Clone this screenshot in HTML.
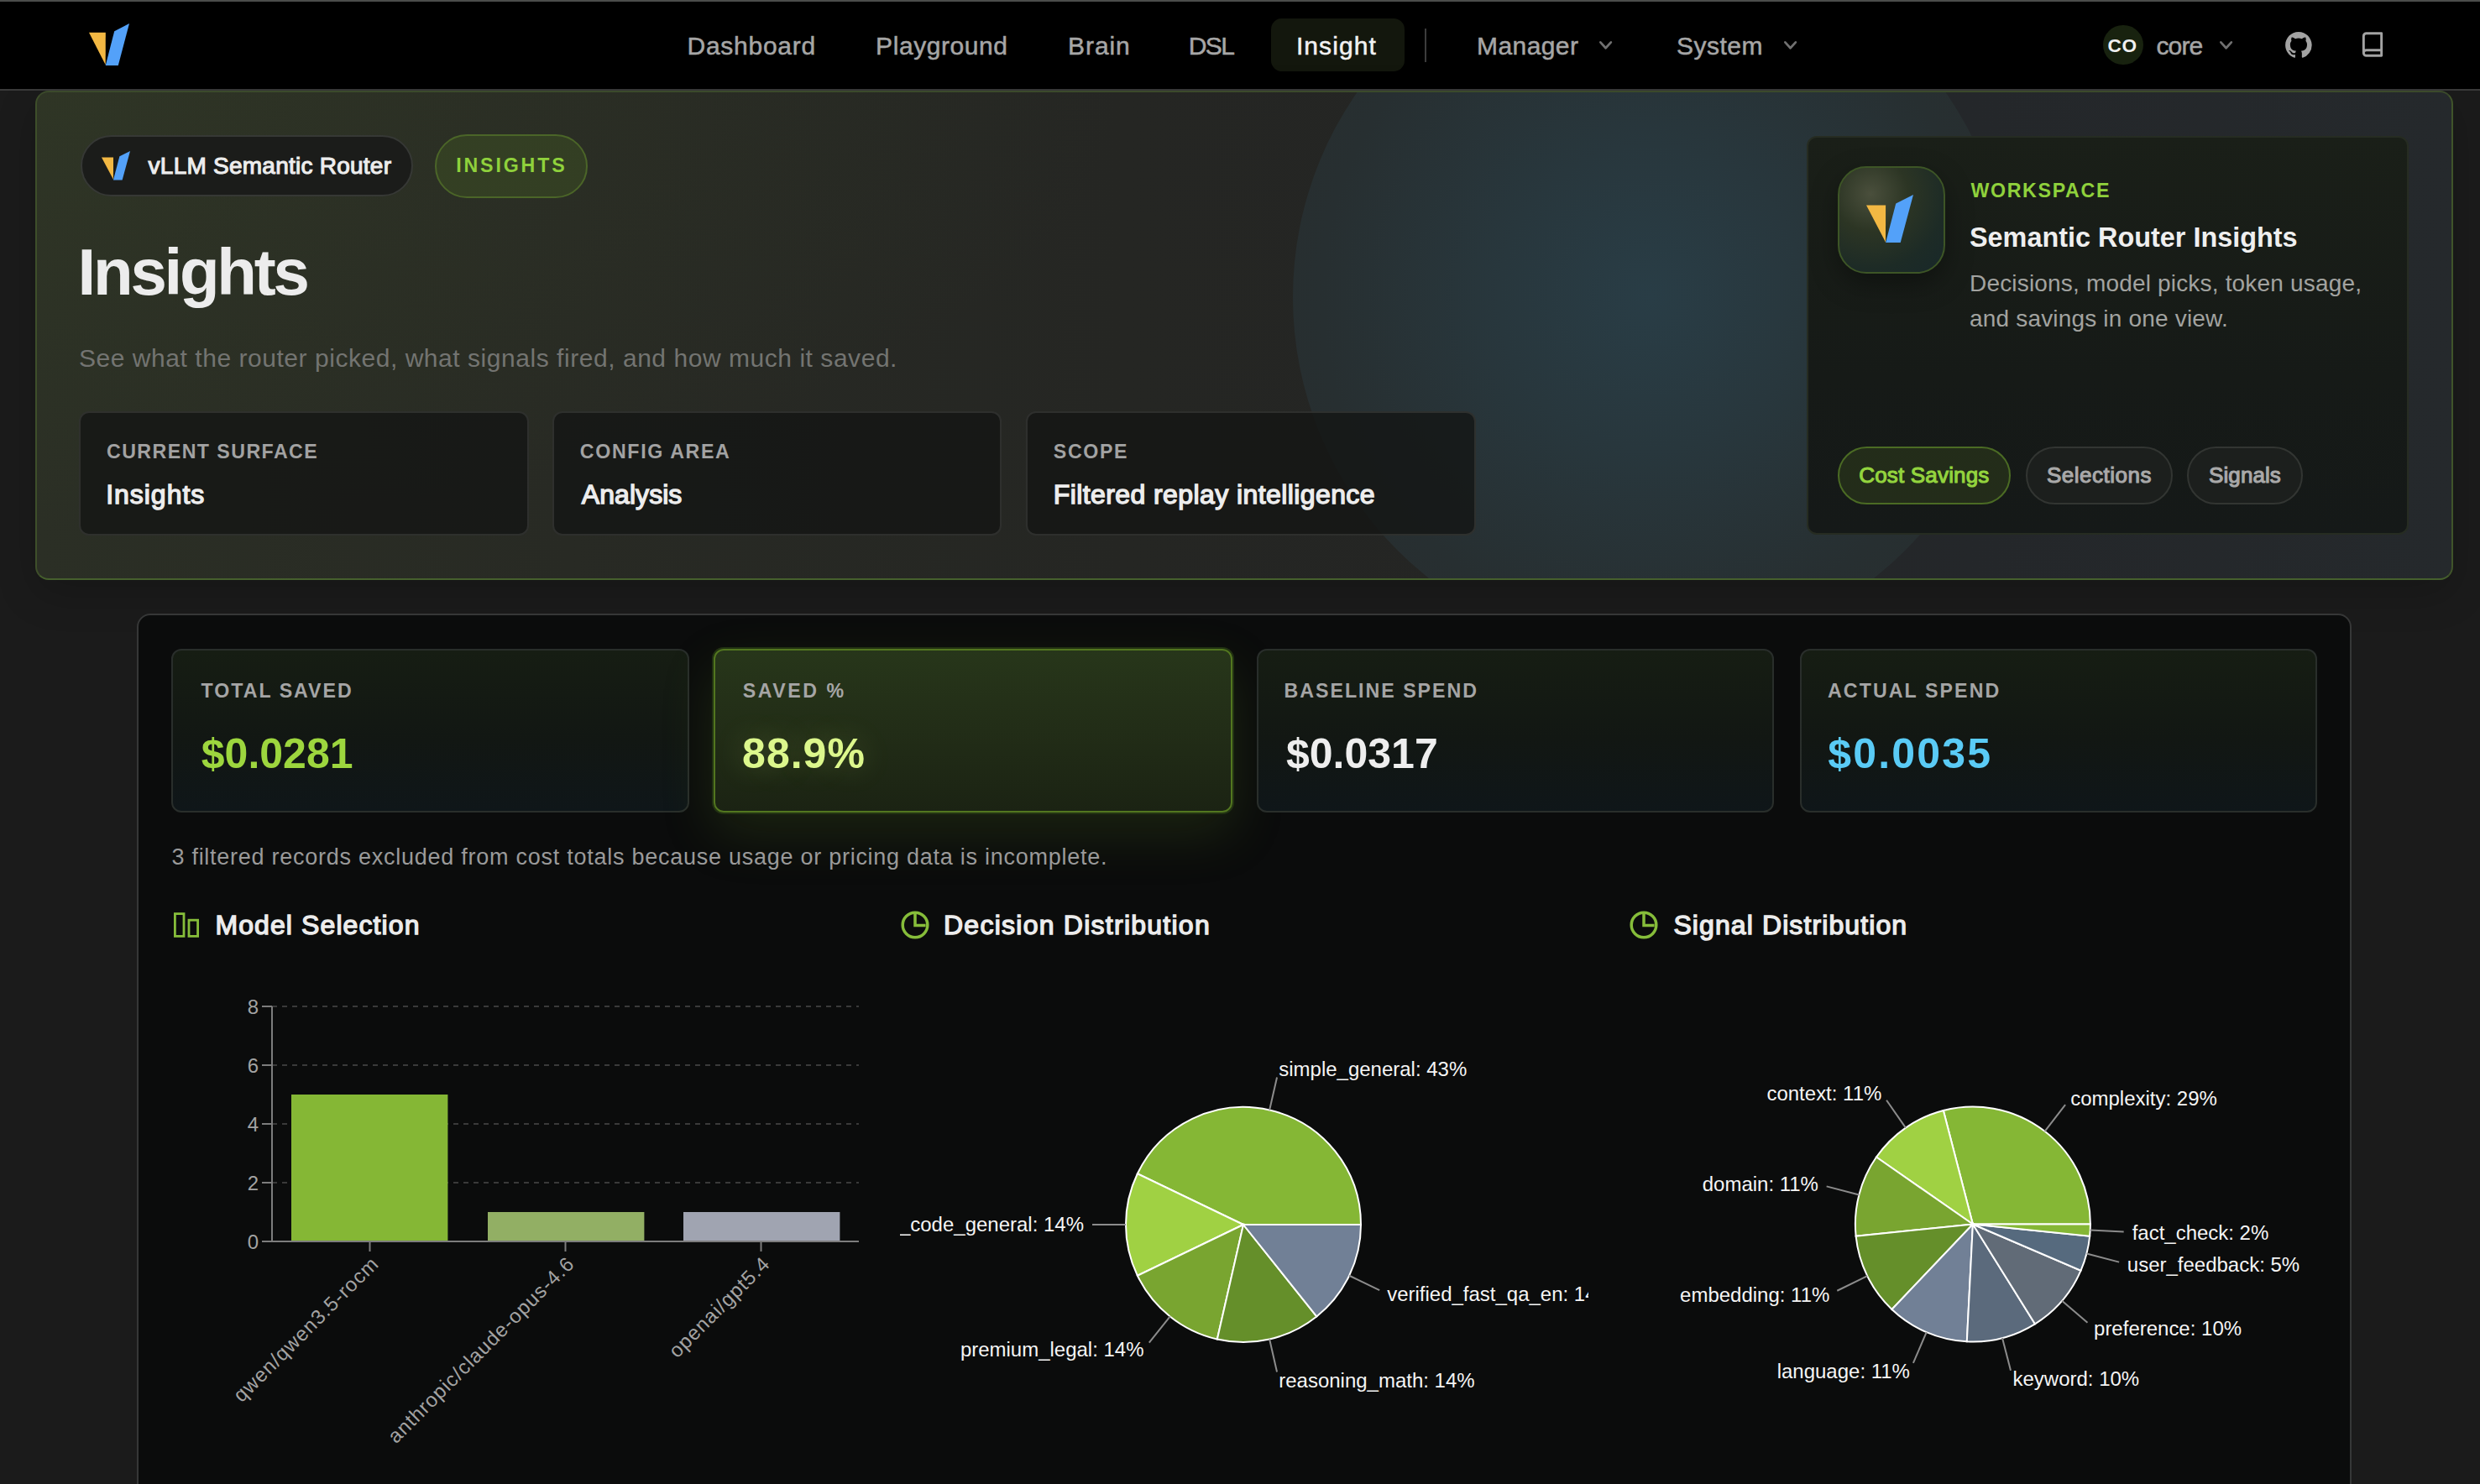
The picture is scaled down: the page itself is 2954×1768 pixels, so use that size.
<!DOCTYPE html>
<html><head><meta charset="utf-8"><title>Insights</title>
<style>
*{margin:0;padding:0;box-sizing:content-box}
html,body{width:1477px;height:884px;overflow:hidden;background:#1b1b1b}
@media (min-width: 2000px) { html { zoom: 2; } }
body{position:relative;font-family:'Liberation Sans', Arial, sans-serif;-webkit-font-smoothing:antialiased}
.t{position:absolute;white-space:nowrap;line-height:1}
.b{position:absolute;display:block}
.hero{border:1px solid #3f5129;border-color:#3b4a2b #40542a #46602d #3e4f2a;border-radius:8px;box-shadow:0 8px 24px rgba(0,0,0,0.18);overflow:hidden;box-sizing:border-box;
background:radial-gradient(ellipse 45% 90% at 0% 0%, rgba(62,78,38,0.20), rgba(62,78,38,0) 100%),linear-gradient(90deg,#2b2f25 0%,#282a24 22%,#252623 45%,#242524 62%,#24272a 80%,#25292c 100%);}
.circ{left:748px;top:-91.4px;width:426.8px;height:426.8px;border-radius:50%;
background:radial-gradient(circle at 50% 50%,#293d46 0%,#28373d 30%,#272f31 65%,#282d2d 100%);}
</style></head>
<body>
<div class="b" style="left:0.00px;top:0.00px;width:1477.00px;height:1.00px;background:#4b4d4b"></div>
<div class="b" style="left:0.00px;top:1.00px;width:1477.00px;height:52.00px;background:#000"></div>
<div class="b" style="left:0.00px;top:53.00px;width:1477.00px;height:1.00px;background:#3a3a3a"></div>
<svg class="b" style="left:53.20px;top:14.00px" width="24.00" height="25.00" viewBox="0 0 24 25" preserveAspectRatio="none"><polygon points="0,5.4 9.9,5.4 9.85,24.6" fill="#f3b843"/><polygon points="9.85,25 17.4,25 24,0 15.1,4.6" fill="#53a1f9"/></svg>
<div class="t" style="left:409.25px;top:19.85px;font-size:15px;color:#a6a6a6;letter-spacing:0.37px;-webkit-text-stroke:0.25px currentColor;">Dashboard</div>
<div class="t" style="left:521.55px;top:19.85px;font-size:15px;color:#a6a6a6;letter-spacing:0.28px;-webkit-text-stroke:0.25px currentColor;">Playground</div>
<div class="t" style="left:636.05px;top:19.85px;font-size:15px;color:#a6a6a6;letter-spacing:0.45px;-webkit-text-stroke:0.25px currentColor;">Brain</div>
<div class="t" style="left:707.85px;top:19.85px;font-size:15px;color:#a6a6a6;letter-spacing:-0.75px;-webkit-text-stroke:0.25px currentColor;">DSL</div>
<div class="b" style="left:756.80px;top:11.20px;width:79.60px;height:31.50px;background:#13170d;border-radius:6.5px"></div>
<div class="t" style="left:771.95px;top:19.85px;font-size:15px;color:#f2f2f2;letter-spacing:0.55px;-webkit-text-stroke:0.25px currentColor;">Insight</div>
<div class="b" style="left:848.60px;top:17.00px;width:1.00px;height:20.00px;background:#3c3c3c"></div>
<div class="t" style="left:879.55px;top:19.85px;font-size:15px;color:#a6a6a6;letter-spacing:0.2px;-webkit-text-stroke:0.25px currentColor;">Manager</div>
<svg class="b" style="left:952.70px;top:24.60px;overflow:visible" width="7.6" height="4.8" viewBox="0 0 7.6 4.8"><polyline points="0.675,0.675 3.8,4.125 6.925,0.675" fill="none" stroke="#707070" stroke-width="1.35" stroke-linecap="round" stroke-linejoin="round"/></svg>
<div class="t" style="left:998.45px;top:19.85px;font-size:15px;color:#a6a6a6;letter-spacing:0.25px;-webkit-text-stroke:0.25px currentColor;">System</div>
<svg class="b" style="left:1062.30px;top:24.60px;overflow:visible" width="7.6" height="4.8" viewBox="0 0 7.6 4.8"><polyline points="0.675,0.675 3.8,4.125 6.925,0.675" fill="none" stroke="#707070" stroke-width="1.35" stroke-linecap="round" stroke-linejoin="round"/></svg>
<div class="b" style="left:1252.70px;top:15.10px;width:23.60px;height:23.60px;background:#18220f;border-radius:50%"></div>
<div class="t" style="left:1255.30px;top:22.03px;font-size:11.3px;color:#f0f0f0;font-weight:700;letter-spacing:0.3px;">CO</div>
<div class="t" style="left:1284.25px;top:19.85px;font-size:15px;color:#a6a6a6;letter-spacing:-0.45px;-webkit-text-stroke:0.25px currentColor;">core</div>
<svg class="b" style="left:1321.90px;top:24.70px;overflow:visible" width="7.6" height="4.8" viewBox="0 0 7.6 4.8"><polyline points="0.675,0.675 3.8,4.125 6.925,0.675" fill="none" stroke="#707070" stroke-width="1.35" stroke-linecap="round" stroke-linejoin="round"/></svg>
<svg class="b" style="left:1361px;top:18.9px" width="15.9" height="15.8" viewBox="0 0 16 16"><path fill="#a3a3a3" d="M8 0C3.58 0 0 3.58 0 8c0 3.54 2.29 6.53 5.47 7.59.4.07.55-.17.55-.38 0-.19-.01-.82-.01-1.49-2.01.37-2.53-.49-2.69-.94-.09-.23-.48-.94-.82-1.13-.28-.15-.68-.52-.01-.53.63-.01 1.08.58 1.23.82.72 1.21 1.87.87 2.33.66.07-.52.28-.87.51-1.07-1.78-.2-3.64-.89-3.64-3.95 0-.87.31-1.59.82-2.15-.08-.2-.36-1.02.08-2.12 0 0 .67-.21 2.2.82.64-.18 1.32-.27 2-.27.68 0 1.36.09 2 .27 1.53-1.04 2.2-.82 2.2-.82.44 1.1.16 1.92.08 2.12.51.56.82 1.27.82 2.15 0 3.07-1.87 3.75-3.65 3.95.29.25.54.73.54 1.48 0 1.07-.01 1.93-.01 2.2 0 .21.15.46.55.38A8.013 8.013 0 0016 8c0-4.42-3.58-8-8-8z"/></svg>
<svg class="b" style="left:1405px;top:18.7px" width="16" height="16" viewBox="0 0 24 24" fill="none" stroke="#a3a3a3" stroke-width="2.2" stroke-linecap="round" stroke-linejoin="round"><path d="M4 19.5v-15A2.5 2.5 0 0 1 6.5 2H20v20H6.5a2.5 2.5 0 0 1 0-5H20"/></svg>
<div class="b hero" style="left:21px;top:54px;width:1440px;height:291.5px;"><div class="b circ"></div></div>
<div class="b" style="left:47.80px;top:80.50px;width:198.40px;height:36.70px;background:#1b1c1a;border:1px solid #363835;box-sizing:border-box;border-radius:20px"></div>
<svg class="b" style="left:60.40px;top:90.10px" width="17.00" height="17.20" viewBox="0 0 24 25" preserveAspectRatio="none"><polygon points="0,5.4 9.9,5.4 9.85,24.6" fill="#f3b843"/><polygon points="9.85,25 17.4,25 24,0 15.1,4.6" fill="#53a1f9"/></svg>
<div class="t" style="left:88.30px;top:91.80px;font-size:14px;color:#ededed;letter-spacing:0.121052631578951px;-webkit-text-stroke:0.55px currentColor;">vLLM Semantic Router</div>
<div class="b" style="left:259.00px;top:80.20px;width:91.00px;height:37.60px;background:rgba(70,95,35,0.35);border:1px solid #4b6528;box-sizing:border-box;border-radius:20px"></div>
<div class="t" style="left:271.60px;top:92.93px;font-size:11.6px;color:#8fd13c;font-weight:700;letter-spacing:1.4285714285714477px;">INSIGHTS</div>
<div class="t" style="left:46.30px;top:142.74px;font-size:39px;color:#ececec;font-weight:700;letter-spacing:-1.63px;">Insights</div>
<div class="t" style="left:47.00px;top:205.75px;font-size:15px;color:#737471;letter-spacing:0.27px;">See what the router picked, what signals fired, and how much it saved.</div>
<div class="b" style="left:47.10px;top:244.80px;width:267.80px;height:74.40px;background:rgba(19,20,19,0.78);border:1px solid rgba(52,54,51,0.8);box-sizing:border-box;border-radius:6px"></div>
<div class="t" style="left:63.50px;top:263.53px;font-size:11.6px;color:#a2a2a2;font-weight:700;letter-spacing:0.7200000000000023px;">CURRENT SURFACE</div>
<div class="t" style="left:63.10px;top:286.56px;font-size:16px;color:#ededed;letter-spacing:0.48571428571429043px;-webkit-text-stroke:0.7px currentColor;">Insights</div>
<div class="b" style="left:328.90px;top:244.80px;width:267.80px;height:74.40px;background:rgba(19,20,19,0.78);border:1px solid rgba(52,54,51,0.8);box-sizing:border-box;border-radius:6px"></div>
<div class="t" style="left:345.40px;top:263.53px;font-size:11.6px;color:#a2a2a2;font-weight:700;letter-spacing:0.8300000000000134px;">CONFIG AREA</div>
<div class="t" style="left:346.40px;top:286.56px;font-size:16px;color:#ededed;letter-spacing:0.028571428571467564px;-webkit-text-stroke:0.7px currentColor;">Analysis</div>
<div class="b" style="left:611.00px;top:244.80px;width:267.80px;height:74.40px;background:rgba(19,20,19,0.78);border:1px solid rgba(52,54,51,0.8);box-sizing:border-box;border-radius:6px"></div>
<div class="t" style="left:627.40px;top:263.53px;font-size:11.6px;color:#a2a2a2;font-weight:700;letter-spacing:0.8075px;">SCOPE</div>
<div class="t" style="left:627.40px;top:286.56px;font-size:16px;color:#ededed;letter-spacing:0.2037037037037037px;-webkit-text-stroke:0.7px currentColor;">Filtered replay intelligence</div>
<div class="b" style="left:1076.00px;top:81.00px;width:358.30px;height:237.40px;background:linear-gradient(180deg,#1a1f18 0%,#161a17 60%,#151918 100%);border:1px solid #262c22;box-sizing:border-box;border-radius:6px"></div>
<div class="b" style="left:1094.50px;top:99.10px;width:64.00px;height:63.80px;background:radial-gradient(circle at 30% 25%, #4a4f3c 0%, #2c3524 35%, #1d2b26 70%, #18282a 100%);border:1px solid #3d5526;box-sizing:border-box;border-radius:17px;box-shadow:0 6px 16px rgba(0,0,0,0.35)"></div>
<svg class="b" style="left:1111.50px;top:116.00px" width="28.00" height="28.70" viewBox="0 0 24 25" preserveAspectRatio="none"><polygon points="0,5.4 9.9,5.4 9.85,24.6" fill="#f3b843"/><polygon points="9.85,25 17.4,25 24,0 15.1,4.6" fill="#53a1f9"/></svg>
<div class="t" style="left:1173.70px;top:107.98px;font-size:11.6px;color:#8fd13c;font-weight:700;letter-spacing:0.8399999999999659px;">WORKSPACE</div>
<div class="t" style="left:1173.00px;top:133.64px;font-size:16.2px;color:#efefef;font-weight:700;">Semantic Router Insights</div>
<div class="t" style="left:1173.00px;top:161.90px;font-size:14px;color:#a2a3a0;letter-spacing:0.09px;">Decisions, model picks, token usage,</div>
<div class="t" style="left:1173.00px;top:182.95px;font-size:14px;color:#a2a3a0;letter-spacing:0.09px;">and savings in one view.</div>
<div class="b" style="left:1094.60px;top:266.10px;width:102.70px;height:34.20px;background:rgba(64,88,30,0.32);border:1px solid #4b6b24;box-sizing:border-box;border-radius:18px"></div>
<div class="t" style="left:1107.10px;top:276.60px;font-size:13px;color:#93d43e;letter-spacing:0.0909090909090909px;-webkit-text-stroke:0.55px currentColor;">Cost Savings</div>
<div class="b" style="left:1206.50px;top:266.10px;width:87.30px;height:34.20px;background:#1c1f1d;border:1px solid #323532;box-sizing:border-box;border-radius:18px"></div>
<div class="t" style="left:1219.00px;top:276.60px;font-size:13px;color:#a9a9a9;letter-spacing:0.25555555555537357px;-webkit-text-stroke:0.55px currentColor;">Selections</div>
<div class="b" style="left:1302.50px;top:266.10px;width:68.90px;height:34.20px;background:#1c1f1d;border:1px solid #323532;box-sizing:border-box;border-radius:18px"></div>
<div class="t" style="left:1315.50px;top:276.60px;font-size:13px;color:#a9a9a9;letter-spacing:0.050000000000181906px;-webkit-text-stroke:0.55px currentColor;">Signals</div>
<div class="b" style="left:81.30px;top:365.70px;width:1319.20px;height:560.00px;background:#0b0c0c;border:1px solid #363737;box-sizing:border-box;border-radius:8px"></div>
<div class="b" style="left:102.00px;top:386.60px;width:308.30px;height:97.40px;background:linear-gradient(180deg,#161d13 0%,#121713 55%,#0f1619 100%);border:1px solid #292e2b;box-sizing:border-box;border-radius:6px"></div>
<div class="t" style="left:119.80px;top:406.08px;font-size:11.6px;color:#a5a5a5;font-weight:700;letter-spacing:0.9899999999999949px;">TOTAL SAVED</div>
<div class="t" style="left:119.90px;top:436.54px;font-size:25px;color:#9dd63e;font-weight:700;">$0.0281</div>
<div class="b" style="left:424.90px;top:386.60px;width:309.30px;height:97.40px;background:linear-gradient(180deg,#27361a 0%,#222d17 50%,#1b2313 100%);border:1.1px solid #52761f;box-sizing:border-box;border-radius:6px;box-shadow:0 0 0 1px rgba(38,56,20,0.85),0 12px 32px rgba(110,160,40,0.17)"></div>
<div class="t" style="left:442.35px;top:406.08px;font-size:11.6px;color:#a5a5a5;font-weight:700;letter-spacing:1.2666666666666553px;">SAVED %</div>
<div class="t" style="left:442.05px;top:436.54px;font-size:25px;color:#dcf78c;font-weight:700;letter-spacing:0.5px;text-shadow:0 0 18px rgba(200,240,120,0.22);">88.9%</div>
<div class="b" style="left:748.30px;top:386.60px;width:308.30px;height:97.40px;background:linear-gradient(180deg,#161d13 0%,#121713 55%,#0f1619 100%);border:1px solid #292e2b;box-sizing:border-box;border-radius:6px"></div>
<div class="t" style="left:764.80px;top:406.08px;font-size:11.6px;color:#a5a5a5;font-weight:700;letter-spacing:0.992307692307661px;">BASELINE SPEND</div>
<div class="t" style="left:766.00px;top:436.54px;font-size:25px;color:#eeeeee;font-weight:700;">$0.0317</div>
<div class="b" style="left:1071.80px;top:386.60px;width:308.30px;height:97.40px;background:linear-gradient(180deg,#161d13 0%,#121713 55%,#0f1619 100%);border:1px solid #292e2b;box-sizing:border-box;border-radius:6px"></div>
<div class="t" style="left:1088.50px;top:406.08px;font-size:11.6px;color:#a5a5a5;font-weight:700;letter-spacing:1.0454545454546198px;">ACTUAL SPEND</div>
<div class="t" style="left:1088.60px;top:436.54px;font-size:25px;color:#5acbf6;font-weight:700;letter-spacing:1.1px;">$0.0035</div>
<div class="t" style="left:102.20px;top:503.87px;font-size:13.5px;color:#9a9a9a;letter-spacing:0.37px;">3 filtered records excluded from cost totals because usage or pricing data is incomplete.</div>
<svg class="b" style="left:102px;top:542px" width="18" height="18" viewBox="102 542 18 18"><rect x="104.2" y="544.3" width="5.3" height="13.4" fill="none" stroke="#86bd3a" stroke-width="1.4"/><rect x="112.5" y="548.1" width="5.3" height="9.6" fill="none" stroke="#86bd3a" stroke-width="1.4"/></svg>
<div class="t" style="left:128.20px;top:543.11px;font-size:16px;color:#ececec;letter-spacing:0.5499999999999955px;-webkit-text-stroke:0.7px currentColor;">Model Selection</div>
<svg class="b" style="left:535.0px;top:541.0px" width="20" height="20" viewBox="535.0 541.0 20 20" fill="none" stroke="#86bd3a" stroke-width="1.75"><circle cx="545.0" cy="551.0" r="7.4"/><polyline points="545.0,544.0 545.0,551.3 551.3,551.3"/></svg>
<div class="t" style="left:562.00px;top:543.11px;font-size:16px;color:#ececec;letter-spacing:0.625px;-webkit-text-stroke:0.7px currentColor;">Decision Distribution</div>
<svg class="b" style="left:968.9px;top:541.0px" width="20" height="20" viewBox="968.9 541.0 20 20" fill="none" stroke="#86bd3a" stroke-width="1.75"><circle cx="978.9" cy="551.0" r="7.4"/><polyline points="978.9,544.0 978.9,551.3 985.1999999999999,551.3"/></svg>
<div class="t" style="left:996.70px;top:543.11px;font-size:16px;color:#ececec;letter-spacing:0.5500000000000301px;-webkit-text-stroke:0.7px currentColor;">Signal Distribution</div>
<svg class="b" style="left:102.5px;top:579.5px;overflow:hidden" width="409.7" height="300" viewBox="102.5 579.5 409.7 300" font-family="'Liberation Sans', Arial, sans-serif" font-size="12"><line x1="162" y1="704.5" x2="511.5" y2="704.5" stroke="#3a3a3a" stroke-dasharray="3 3"/><line x1="162" y1="669.5" x2="511.5" y2="669.5" stroke="#3a3a3a" stroke-dasharray="3 3"/><line x1="162" y1="634.5" x2="511.5" y2="634.5" stroke="#3a3a3a" stroke-dasharray="3 3"/><line x1="162" y1="599.5" x2="511.5" y2="599.5" stroke="#3a3a3a" stroke-dasharray="3 3"/><rect x="173.5" y="652.0" width="93.2" height="87.5" fill="#85b735"/><rect x="290.5" y="722.0" width="93.2" height="17.5" fill="#92af64"/><rect x="407.0" y="722.0" width="93.2" height="17.5" fill="#a0a4b1"/><line x1="162" y1="599.5" x2="162" y2="739.5" stroke="#7d7d7d"/><line x1="156" y1="739.5" x2="511.5" y2="739.5" stroke="#7d7d7d"/><line x1="156" y1="739.5" x2="162" y2="739.5" stroke="#7d7d7d"/><text x="154" y="739.5" dy="0.355em" text-anchor="end" fill="#a3a3a3">0</text><line x1="156" y1="704.5" x2="162" y2="704.5" stroke="#7d7d7d"/><text x="154" y="704.5" dy="0.355em" text-anchor="end" fill="#a3a3a3">2</text><line x1="156" y1="669.5" x2="162" y2="669.5" stroke="#7d7d7d"/><text x="154" y="669.5" dy="0.355em" text-anchor="end" fill="#a3a3a3">4</text><line x1="156" y1="634.5" x2="162" y2="634.5" stroke="#7d7d7d"/><text x="154" y="634.5" dy="0.355em" text-anchor="end" fill="#a3a3a3">6</text><line x1="156" y1="599.5" x2="162" y2="599.5" stroke="#7d7d7d"/><text x="154" y="599.5" dy="0.355em" text-anchor="end" fill="#a3a3a3">8</text><line x1="220.25" y1="739.5" x2="220.25" y2="745.5" stroke="#7d7d7d"/><text x="220.25" y="747.5" dy="0.71em" text-anchor="end" transform="rotate(-45 220.25 747.5)" fill="#a3a3a3" letter-spacing="0.5">qwen/qwen3.5-rocm</text><line x1="336.75" y1="739.5" x2="336.75" y2="745.5" stroke="#7d7d7d"/><text x="336.75" y="747.5" dy="0.71em" text-anchor="end" transform="rotate(-45 336.75 747.5)" fill="#a3a3a3" letter-spacing="0.5">anthropic/claude-opus-4.6</text><line x1="453.25" y1="739.5" x2="453.25" y2="745.5" stroke="#7d7d7d"/><text x="453.25" y="747.5" dy="0.71em" text-anchor="end" transform="rotate(-45 453.25 747.5)" fill="#a3a3a3" letter-spacing="0.5">openai/gpt5.4</text></svg>
<svg class="b" style="left:536.2px;top:579.5px;overflow:hidden" width="409.7" height="300" viewBox="536.2 579.5 409.7 300" font-family="'Liberation Sans', Arial, sans-serif" font-size="12"><path d="M740.7,729.5 L810.700,729.500 A70,70 0 0 0 677.632,699.128 Z" fill="#85b735" stroke="#fff" stroke-width="1"/><path d="M740.7,729.5 L677.632,699.128 A70,70 0 0 0 677.632,759.872 Z" fill="#a0d143" stroke="#fff" stroke-width="1"/><path d="M740.7,729.5 L677.632,759.872 A70,70 0 0 0 725.124,797.745 Z" fill="#79a530" stroke="#fff" stroke-width="1"/><path d="M740.7,729.5 L725.124,797.745 A70,70 0 0 0 784.344,784.228 Z" fill="#658f2a" stroke="#fff" stroke-width="1"/><path d="M740.7,729.5 L784.344,784.228 A70,70 0 0 0 810.700,729.500 Z" fill="#718096" stroke="#fff" stroke-width="1"/><polyline points="756.276,661.255 760.727,641.756" fill="none" stroke="#8c8c8c"/><text x="761.839" y="636.882" text-anchor="start" dominant-baseline="central" fill="#f5f5f5">simple_general: 43%</text><polyline points="670.700,729.500 650.700,729.500" fill="none" stroke="#8c8c8c"/><text x="645.700" y="729.500" text-anchor="end" dominant-baseline="central" fill="#f5f5f5">standard_code_general: 14%</text><polyline points="697.056,784.228 684.586,799.865" fill="none" stroke="#8c8c8c"/><text x="681.468" y="803.774" text-anchor="end" dominant-baseline="central" fill="#f5f5f5">premium_legal: 14%</text><polyline points="756.276,797.745 760.727,817.244" fill="none" stroke="#8c8c8c"/><text x="761.839" y="822.118" text-anchor="start" dominant-baseline="central" fill="#f5f5f5">reasoning_math: 14%</text><polyline points="803.768,759.872 821.787,768.550" fill="none" stroke="#8c8c8c"/><text x="826.292" y="770.719" text-anchor="start" dominant-baseline="central" fill="#f5f5f5">verified_fast_qa_en: 14%</text></svg>
<svg class="b" style="left:969.8px;top:579.5px;overflow:hidden" width="409.7" height="300" viewBox="969.8 579.5 409.7 300" font-family="'Liberation Sans', Arial, sans-serif" font-size="12"><path d="M1174.75,729.25 L1244.750,729.250 A70,70 0 0 0 1157.204,661.485 Z" fill="#85b735" stroke="#fff" stroke-width="1"/><path d="M1174.75,729.25 L1157.204,661.485 A70,70 0 0 0 1117.297,689.261 Z" fill="#a0d143" stroke="#fff" stroke-width="1"/><path d="M1174.75,729.25 L1117.297,689.261 A70,70 0 0 0 1105.109,736.332 Z" fill="#79a530" stroke="#fff" stroke-width="1"/><path d="M1174.75,729.25 L1105.109,736.332 A70,70 0 0 0 1126.522,779.985 Z" fill="#658f2a" stroke="#fff" stroke-width="1"/><path d="M1174.75,729.25 L1126.522,779.985 A70,70 0 0 0 1171.205,799.160 Z" fill="#718096" stroke="#fff" stroke-width="1"/><path d="M1174.75,729.25 L1171.205,799.160 A70,70 0 0 0 1211.777,788.655 Z" fill="#5b6a7c" stroke="#fff" stroke-width="1"/><path d="M1174.75,729.25 L1211.777,788.655 A70,70 0 0 0 1239.077,756.855 Z" fill="#616b77" stroke="#fff" stroke-width="1"/><path d="M1174.75,729.25 L1239.077,756.855 A70,70 0 0 0 1244.391,736.332 Z" fill="#566a7e" stroke="#fff" stroke-width="1"/><path d="M1174.75,729.25 L1244.391,736.332 A70,70 0 0 0 1244.750,729.250 Z" fill="#85b735" stroke="#fff" stroke-width="1"/><polyline points="1217.597,673.896 1229.840,658.080" fill="none" stroke="#8c8c8c"/><text x="1232.900" y="654.126" text-anchor="start" dominant-baseline="central" fill="#f5f5f5">complexity: 29%</text><polyline points="1134.761,671.797 1123.336,655.381" fill="none" stroke="#8c8c8c"/><text x="1120.480" y="651.277" text-anchor="end" dominant-baseline="central" fill="#f5f5f5">context: 11%</text><polyline points="1106.985,711.704 1087.623,706.691" fill="none" stroke="#8c8c8c"/><text x="1082.783" y="705.438" text-anchor="end" dominant-baseline="central" fill="#f5f5f5">domain: 11%</text><polyline points="1111.904,760.078 1093.948,768.885" fill="none" stroke="#8c8c8c"/><text x="1089.459" y="771.087" text-anchor="end" dominant-baseline="central" fill="#f5f5f5">embedding: 11%</text><polyline points="1147.145,793.577 1139.258,811.956" fill="none" stroke="#8c8c8c"/><text x="1137.286" y="816.551" text-anchor="end" dominant-baseline="central" fill="#f5f5f5">language: 11%</text><polyline points="1192.296,797.015 1197.309,816.377" fill="none" stroke="#8c8c8c"/><text x="1198.562" y="821.217" text-anchor="start" dominant-baseline="central" fill="#f5f5f5">keyword: 10%</text><polyline points="1227.863,774.846 1243.038,787.874" fill="none" stroke="#8c8c8c"/><text x="1246.832" y="791.130" text-anchor="start" dominant-baseline="central" fill="#f5f5f5">preference: 10%</text><polyline points="1242.515,746.796 1261.877,751.809" fill="none" stroke="#8c8c8c"/><text x="1266.717" y="753.062" text-anchor="start" dominant-baseline="central" fill="#f5f5f5">user_feedback: 5%</text><polyline points="1244.660,732.795 1264.634,733.808" fill="none" stroke="#8c8c8c"/><text x="1269.628" y="734.062" text-anchor="start" dominant-baseline="central" fill="#f5f5f5">fact_check: 2%</text></svg>

</body></html>
